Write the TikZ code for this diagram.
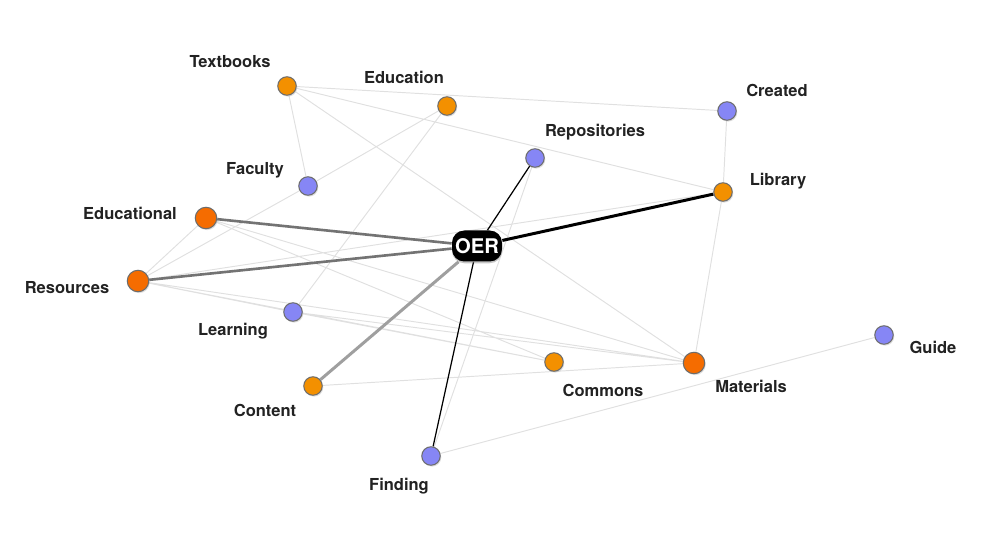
\documentclass[tikz,border=0pt]{standalone}
\usepackage{fontspec}
\setmainfont{TeX Gyre Heros}
\usetikzlibrary{shadows,backgrounds}

\definecolor{lightorange}{RGB}{243,144,0}
\definecolor{deeporange}{RGB}{245,108,0}
\definecolor{termblue}{RGB}{134,134,245}
\definecolor{edgegray}{RGB}{224,224,224}
\definecolor{labelgray}{RGB}{34,34,34}

\begin{document}
\begin{tikzpicture}[
    x=0.02cm, y=-0.02cm,
    term/.style={draw=gray!85!black, line width=0.6pt, circle, inner sep=0pt,
      minimum size=0.37cm,
      drop shadow={opacity=0.25, shadow xshift=0.6pt, shadow yshift=-0.8pt}},
    hub/.style={term, minimum size=0.43cm, fill=deeporange},
    tag/.style={text=labelgray, font=\bfseries\fontsize{9.4}{11}\selectfont, inner sep=0pt},
    faint/.style={edgegray, line width=0.55pt},
    heavy/.style={gray!90!black, line width=1.5pt},
]
    \useasboundingbox (0,0) rectangle (1000,536);

    \node[term,fill=lightorange] (textbooks) at (287,86) {};
    \node[term,fill=lightorange] (education) at (447,106) {};
    \node[term,fill=termblue] (created) at (727,111) {};
    \node[term,fill=termblue] (repositories) at (535,158) {};
    \node[term,fill=termblue] (faculty) at (308,186) {};
    \node[term,fill=lightorange] (library) at (723,192) {};
    \node[hub] (educational) at (206,218) {};
    \node[hub] (resources) at (138,281) {};
    \node[term,fill=termblue] (learning) at (293,312) {};
    \node[term,fill=termblue] (guide) at (884,335) {};
    \node[term,fill=lightorange] (commons) at (554,362) {};
    \node[hub] (materials) at (694,363) {};
    \node[term,fill=lightorange] (content) at (313,386) {};
    \node[term,fill=termblue] (finding) at (431,456) {};

    \node[fill=black, text=white, rounded corners=7pt, minimum width=1cm, minimum height=0.62cm,
      inner sep=0pt, font=\bfseries\fontsize{11.5}{12}\selectfont,
      drop shadow={opacity=0.45, shadow xshift=0pt, shadow yshift=-1pt}] (oer) at (477,246) {OER};

    \node[tag] (textbooks-l) at (230,62) {Textbooks};
    \node[tag] (education-l) at (404,77) {Education};
    \node[tag] (created-l) at (777,90) {Created};
    \node[tag] (repositories-l) at (595,132) {Repositories};
    \node[tag] (faculty-l) at (255,170) {Faculty};
    \node[tag] (library-l) at (778,181) {Library};
    \node[tag] (educational-l) at (130,213) {Educational};
    \node[tag] (resources-l) at (67,288) {Resources};
    \node[tag] (learning-l) at (233,331) {Learning};
    \node[tag] (guide-l) at (933,347) {Guide};
    \node[tag] (commons-l) at (603,390) {Commons};
    \node[tag] (materials-l) at (751,386) {Materials};
    \node[tag] (content-l) at (265,410) {Content};
    \node[tag] (finding-l) at (399,486) {Finding};

    \begin{pgfonlayer}{background}
    \draw[faint] (textbooks) -- (faculty) (textbooks) -- (created) (textbooks) -- (library)
      (textbooks) -- (materials) (education) -- (faculty) (faculty) -- (resources)
      (education) -- (learning) (created) -- (library) (library) -- (materials);
    \draw[faint] (educational) -- (resources) (resources) -- (library) (resources) -- (learning)
      (resources) -- (commons) (resources) -- (materials) (educational) -- (materials)
      (educational) -- (commons) (learning) -- (materials) (learning) -- (commons);
    \draw[faint] (content) -- (materials) (repositories) -- (finding) (finding) -- (guide);

    \draw[heavy] (oer) -- (educational);
    \draw[heavy] (oer) -- (resources);
    \draw[heavy, gray!75, line width=1.7pt] (oer) -- (content);
    \draw[black, line width=1.7pt] (oer) -- (library);
    \draw[black, line width=0.7pt] (oer) -- (repositories);
    \draw[black, line width=0.7pt] (oer) -- (finding);
    \end{pgfonlayer}
\end{tikzpicture}
\end{document}
